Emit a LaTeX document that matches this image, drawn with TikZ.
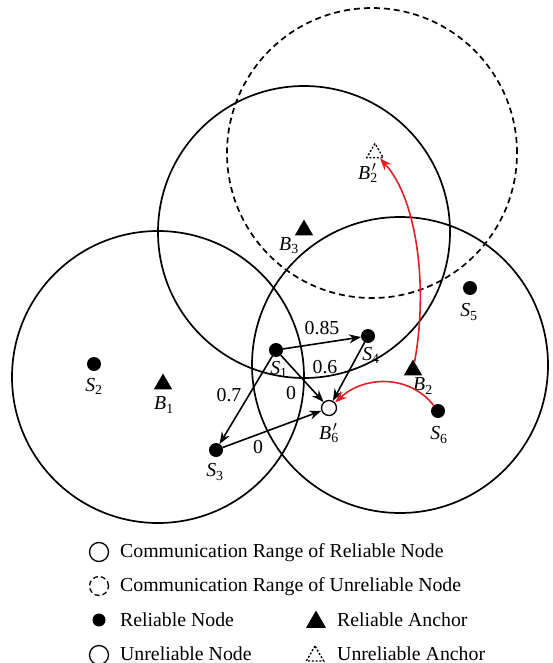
\documentclass[tikz,border=0pt]{standalone}
\usepackage{fontspec}
\setmainfont{Liberation Serif}
\usetikzlibrary{arrows.meta,shapes.geometric}
\definecolor{arrred}{RGB}{228,30,36}
\newcommand\Sn[1]{\textit{S}\textsubscript{#1}}
\newcommand\Bn[1]{\textit{B}\textsubscript{#1}}
\newcommand\Bp[1]{\textit{B}\makebox[0pt][l]{\kern1.5pt$^{\prime}$}\textsubscript{#1}}
\tikzset{
  rng/.style={line width=1.7pt},
  urng/.style={line width=1.7pt, dash pattern=on 6pt off 4pt},
  dot/.style={circle, fill=black, inner sep=0pt, outer sep=0pt, minimum size=14pt},
  onode/.style={circle, draw=black, fill=white, line width=1.3pt, inner sep=0pt, minimum size=15pt},
  anc/.style={regular polygon, regular polygon sides=3, fill=black, inner sep=0pt, outer sep=0pt, minimum size=21pt},
  uanc/.style={regular polygon, regular polygon sides=3, draw=black, line width=1.4pt, dash pattern=on 2pt off 1.8pt, inner sep=0pt, minimum size=19pt},
  lab/.style={inner sep=0pt, font=\fontsize{19.8}{23}\selectfont},
  arr/.style={line width=1.6pt, -{Stealth[length=12pt,width=9pt]}},
  redarr/.style={line width=1.6pt, draw=arrred, -{Stealth[length=12pt,width=9pt]}, fill=none}
}
\begin{document}
\begin{tikzpicture}[x=1pt,y=-1pt]
\useasboundingbox (0,0) rectangle (553,663);
% communication ranges
\draw[rng] (158,377) circle[radius=146pt];
\draw[rng] (304,232) circle[radius=146pt];
\draw[rng] (400,365) circle[radius=148pt];
\draw[urng] (372,153) circle[radius=145pt];
% nodes
\node[dot] (S1) at (276,350) {};
\node[dot] (S2) at (94,364) {};
\node[dot] (S3) at (216,450) {};
\node[dot] (S4) at (368,336) {};
\node[dot] (S5) at (470,288) {};
\node[dot] (S6) at (438,411) {};
\node[anc] (B1) at (163,384) {};
\node[anc] (B2) at (413,370) {};
\node[anc] (B3) at (304,230) {};
\node[uanc] (B2p) at (375,153) {};
\node[onode] (B6p) at (329,408) {};
% labels
\node[lab] (lS1) at (279,369) {\Sn{1}};
\node[lab] (lS2) at (94,386) {\Sn{2}};
\node[lab] (lS3) at (215,472) {\Sn{3}};
\node[lab] (lS4) at (371,355) {\Sn{4}};
\node[lab] (lS5) at (469,312) {\Sn{5}};
\node[lab] (lS6) at (439,435) {\Sn{6}};
\node[lab] (lB1) at (164,405) {\Bn{1}};
\node[lab] (lB2) at (423,386) {\Bn{2}};
\node[lab] (lB3) at (289,246) {\Bn{3}};
\node[lab] (lB2p) at (368,173) {\Bp{2}};
\node[lab] (lB6p) at (329,433) {\Bp{6}};
% edge weights
\node[lab] (w1) at (322,328) {0.85};
\node[lab] (w2) at (325,367) {0.6};
\node[lab] (w3) at (229,395) {0.7};
\node[lab] (w4) at (291,393) {0};
\node[lab] (w5) at (258,447) {0};
% arrows
\draw[arr] (S1) -- (S4);
\draw[arr] (S1) -- (S3);
\draw[arr] (S1) -- (B6p);
\draw[arr] (S4) -- (B6p);
\draw[arr] (S3) -- (B6p);
\draw[redarr] (B2) .. controls (428,290) and (418,200) .. (B2p);
\draw[redarr] (S6) .. controls (410,375) and (365,375) .. (B6p);
% legend
\draw[line width=1.3pt] (99,552) circle[radius=9.5pt];
\draw[line width=1.3pt, dash pattern=on 5pt off 3pt] (99,586) circle[radius=9.5pt];
\node[dot, minimum size=13pt] (Ld) at (99,620) {};
\node[onode, minimum size=19pt] (Lo) at (99,655) {};
\node[anc, minimum size=23pt] (La) at (316,622) {};
\node[uanc, minimum size=20pt] (Lu) at (315,656) {};
\node[lab, anchor=base west] (t1) at (120,557) {Communication Range of Reliable Node};
\node[lab, anchor=base west] (t2) at (120,591) {Communication Range of Unreliable Node};
\node[lab, anchor=base west] (t3) at (120,626) {Reliable Node};
\node[lab, anchor=base west] (t4) at (120,660) {Unreliable Node};
\node[lab, anchor=base west] (t5) at (337,626) {Reliable Anchor};
\node[lab, anchor=base west] (t6) at (337,660) {Unreliable Anchor};
\end{tikzpicture}
\end{document}
